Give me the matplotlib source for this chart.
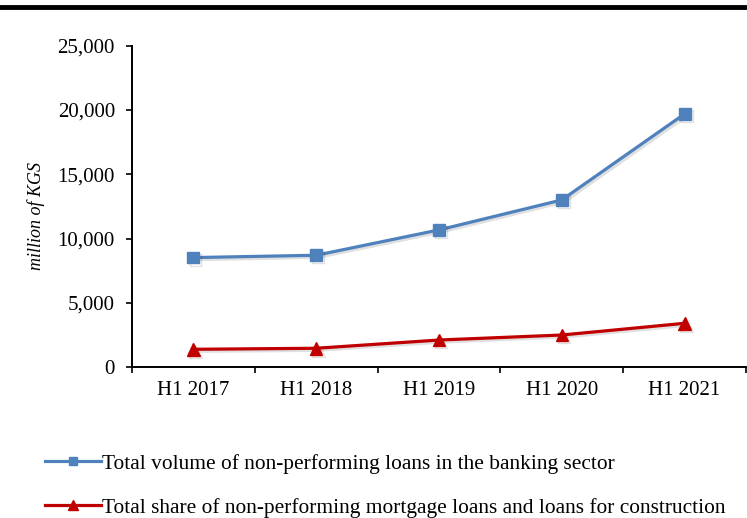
import matplotlib
matplotlib.use("Agg")
import matplotlib.pyplot as plt
import matplotlib.patheffects as pe
from matplotlib.lines import Line2D
from matplotlib.ticker import FuncFormatter, FixedLocator

categories = ["H1 2017", "H1 2018", "H1 2019", "H1 2020", "H1 2021"]
total_npl = [8530, 8710, 10680, 13010, 19700]
mortgage_npl = [1400, 1480, 2120, 2510, 3420]
series_labels = [
    "Total volume of non-performing loans in the banking sector",
    "Total share of non-performing mortgage loans and loans for construction",
]
y_ticks = [0, 5000, 10000, 15000, 20000, 25000]
y_label = "million of KGS"

plt.rcParams["font.family"] = ["Liberation Serif", "DejaVu Serif"]
FS = 15

fig = plt.figure(figsize=(7.47, 5.18), dpi=100)
ax = fig.add_axes([132 / 747, 1 - 367.3 / 518, (746 - 132) / 747, (367.3 - 45.7) / 518])

x = list(range(len(categories)))
shadow = [pe.SimpleLineShadow(offset=(1.5, -1.5), shadow_color="black", alpha=0.12), pe.Normal()]

blue = "#4F81BD"
red = "#C00000"
ax.plot(x, total_npl, color=blue, lw=2.3, marker="s", ms=8.5, mec=blue, mfc=blue,
        path_effects=shadow, zorder=3)
ax.plot(x, mortgage_npl, color=red, lw=2.3, marker="^", ms=9, mec=red, mfc=red,
        path_effects=shadow, zorder=3)

ax.set_xlim(-0.5, len(categories) - 0.5)
ax.set_ylim(0, 25000)
ax.set_yticks(y_ticks)
ax.yaxis.set_major_formatter(FuncFormatter(lambda v, p: f"{int(v):,}"))

ax.set_xticks(x)
ax.set_xticklabels(categories)
ax.xaxis.set_minor_locator(FixedLocator([i - 0.5 for i in range(len(categories) + 1)]))
ax.tick_params(axis="x", which="major", length=0, pad=10, labelsize=FS)
ax.tick_params(axis="x", which="minor", length=4, width=1.2, direction="out")
ax.tick_params(axis="y", length=4.3, width=1.2, direction="out", pad=8, labelsize=FS)

for s in ["top", "right"]:
    ax.spines[s].set_visible(False)
for s in ["left", "bottom"]:
    ax.spines[s].set_linewidth(1.4)

ax.set_ylabel(y_label, fontsize=13, style="italic")
ax.yaxis.set_label_coords(-0.141, 0.47)

handles = [
    Line2D([], [], color=blue, lw=2.3, marker="s", ms=6, mec=blue, mfc=blue),
    Line2D([], [], color=red, lw=2.3, marker="^", ms=6.5, mec=red, mfc=red),
]
fig.legend(handles, series_labels, loc="upper left", bbox_to_anchor=(45 / 747, 1 - 454 / 518),
           frameon=False, fontsize=15.4, handlelength=2.6, handletextpad=0.05,
           labelspacing=1.12, borderpad=0, borderaxespad=0, numpoints=1)

fig.add_artist(Line2D([0, 1], [1 - 7 / 518, 1 - 7 / 518], transform=fig.transFigure,
                      color="black", lw=3.5))

fig.savefig("out.png", dpi=100)
